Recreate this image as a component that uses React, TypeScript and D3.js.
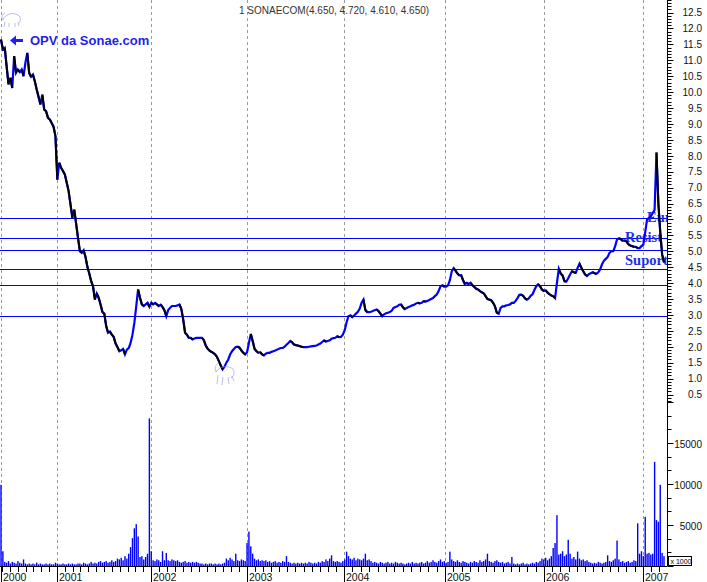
import React from "react";
import * as d3 from "d3";

const price = [
  11.65, 11.34, 11.39, 10.81, 10.24, 10.45, 10.13, 11.13, 10.6, 10.71,
  10.63, 10.71, 10.5, 10.92, 11.23, 10.6, 10.48, 10.55, 10.34, 10.08,
  9.85, 9.61, 9.92, 9.45, 9.4, 9.19, 9.14, 9.03, 8.91, 8.61,
  7.25, 7.78, 7.62, 7.52, 7.41, 7.15, 6.89, 6.47, 6.05, 6.31,
  5.87, 5.42, 5.0, 4.95, 5.03, 4.82, 4.51, 4.3, 4.06, 3.9,
  3.48, 3.67, 3.54, 3.33, 3.09, 3.04, 2.65, 2.44, 2.48, 2.38,
  2.31, 2.1, 1.99, 1.86, 1.89, 1.93, 1.76, 1.91, 1.96, 2.12,
  2.38, 2.75, 3.27, 3.8, 3.54, 3.33, 3.28, 3.33, 3.38, 3.25,
  3.38, 3.33, 3.38, 3.33, 3.28, 3.32, 3.25, 3.15, 2.96, 3.15,
  3.22, 3.28, 3.28, 3.28, 3.3, 3.33, 3.19, 2.86, 2.44, 2.38,
  2.28, 2.28, 2.23, 2.26, 2.28, 2.28, 2.28, 2.28, 2.21, 2.04,
  1.94, 1.88, 1.84, 1.81, 1.76, 1.68, 1.55, 1.41, 1.29, 1.37,
  1.5, 1.6, 1.76, 1.86, 1.93, 1.99, 2.0, 1.97, 1.88, 1.81,
  1.76, 1.83, 2.12, 2.4, 2.18, 1.93, 1.86, 1.81, 1.83, 1.76,
  1.73, 1.78, 1.81, 1.81, 1.84, 1.86, 1.88, 1.91, 1.94, 1.96,
  1.96, 2.0, 2.06, 2.12, 2.18, 2.14, 2.07, 2.05, 2.04, 2.02,
  2.0, 1.99, 1.99, 1.99, 2.0, 2.01, 2.02, 2.03, 2.04, 2.07,
  2.1, 2.15, 2.2, 2.16, 2.18, 2.2, 2.25, 2.27, 2.28, 2.33,
  2.3, 2.31, 2.38, 2.52, 2.77, 2.96, 2.99, 2.93, 2.98, 3.04,
  3.1, 3.2, 3.38, 3.48, 3.15, 3.09, 3.09, 3.1, 3.12, 3.15,
  3.17, 3.12, 3.04, 2.96, 3.02, 3.05, 3.07, 3.09, 3.13, 3.22,
  3.25, 3.27, 3.32, 3.33, 3.24, 3.18, 3.22, 3.25, 3.27, 3.3,
  3.32, 3.36, 3.38, 3.36, 3.38, 3.43, 3.42, 3.44, 3.47, 3.5,
  3.53, 3.59, 3.64, 3.75, 3.9, 3.93, 3.89, 3.89, 3.93, 4.09,
  4.37, 4.47, 4.39, 4.3, 4.24, 4.25, 4.09, 3.97, 4.01, 3.97,
  4.01, 3.93, 3.88, 3.82, 3.8, 3.75, 3.71, 3.68, 3.59, 3.5,
  3.48, 3.46, 3.38, 3.27, 3.07, 3.04, 3.22, 3.27, 3.27, 3.3,
  3.31, 3.33, 3.38, 3.38, 3.44, 3.53, 3.63, 3.64, 3.6, 3.52,
  3.48, 3.52, 3.6, 3.65, 3.78, 3.9, 3.96, 3.9, 3.8, 3.75,
  3.77, 3.7, 3.65, 3.61, 3.59, 3.53, 4.01, 4.45, 4.3, 4.24,
  4.06, 4.05, 4.15, 4.27, 4.37, 4.34, 4.32, 4.48, 4.61, 4.48,
  4.37, 4.27, 4.22, 4.28, 4.31, 4.34, 4.31, 4.29, 4.34, 4.43,
  4.59, 4.7, 4.76, 4.82, 4.95, 5.0, 5.0, 5.16, 5.37, 5.41,
  5.38, 5.33, 5.34, 5.31, 5.22, 5.18, 5.16, 5.14, 5.14, 5.1,
  5.1, 5.16, 5.21, 5.6, 6.0, 6.05, 6.1, 6.2, 6.3, 8.1,
  6.5, 5.6, 4.9, 4.65,
];

// Volume in thousands of shares, same sampling
const volume = [
  9.9, 1.8, 0.5, 0.4, 0.6, 0.3, 0.5, 0.4, 0.3, 0.6,
  0.4, 0.3, 0.8, 0.3, 0.2, 0.3, 0.2, 0.3, 0.2, 0.4,
  0.2, 0.3, 0.2, 0.2, 0.3, 0.2, 0.3, 0.2, 0.2, 0.4,
  0.3, 0.2, 0.2, 0.3, 0.2, 0.2, 0.3, 0.2, 0.3, 0.2,
  0.2, 0.3, 0.3, 0.2, 0.4, 0.3, 0.2, 0.3, 0.5, 0.3,
  0.4, 0.3, 0.5, 0.6, 0.4, 0.5, 0.6, 0.4, 0.5, 0.7,
  0.5, 0.6, 0.9, 0.8, 1.0, 0.7, 1.2, 0.9, 1.5, 2.3,
  3.4, 4.6, 5.1, 3.6, 1.1, 1.2, 0.8, 1.1, 1.5, 18,
  1.8, 0.7, 0.6, 0.8, 0.7, 0.5, 1.8, 0.7, 1.6, 0.7,
  0.6, 0.8, 0.7, 0.6, 0.7, 0.5, 0.4, 0.5, 0.6, 0.4,
  0.5, 0.4, 0.5, 0.4, 0.5, 0.4, 0.3, 0.3, 0.2, 0.3,
  0.2, 0.3, 0.3, 0.2, 0.3, 0.2, 0.3, 0.2, 0.3, 0.4,
  0.9, 0.7, 1.0, 0.8, 0.6, 1.5, 0.7, 0.6, 0.8, 0.7,
  0.6, 2.8, 4.2, 2.4, 1.5, 0.9, 0.7, 0.8, 0.6, 0.7,
  0.6, 0.7, 0.5, 0.6, 0.4, 0.5, 0.6, 0.4, 0.5, 0.4,
  0.6, 0.5, 1.2, 0.5, 0.4, 0.3, 0.4, 0.3, 0.4, 0.3,
  0.4, 0.3, 0.4, 0.3, 0.5, 0.4, 0.3, 0.4, 0.3, 0.5,
  0.4, 0.6, 0.5, 0.8, 0.6, 0.9, 1.3, 0.6, 0.5, 0.6,
  0.5, 0.4, 0.6, 0.8, 1.75, 1.2, 0.9, 0.8, 1.0, 0.7,
  0.9, 0.8, 0.7, 0.9, 1.5, 0.7, 0.8, 0.6, 0.4, 0.5,
  0.4, 0.3, 0.5, 0.4, 0.3, 0.4, 0.5, 0.3, 0.4, 0.3,
  0.5, 0.4, 0.3, 0.4, 0.3, 0.2, 0.3, 0.4, 0.3, 0.5,
  0.3, 0.4, 0.3, 0.4, 0.5, 0.3, 0.4, 0.6, 0.4, 0.5,
  0.7, 0.5, 0.4, 0.6, 0.8, 0.5, 0.6, 0.4, 0.5, 1.75,
  0.8, 0.6, 0.5, 0.7, 0.5, 0.4, 0.6, 0.5, 0.4, 0.3,
  0.5, 0.4, 0.6, 0.5, 0.4, 0.7, 0.5, 0.6, 0.8, 1.5,
  0.6, 0.5, 0.4, 0.6, 0.7, 0.5, 0.4, 0.5, 0.3, 0.4,
  0.5, 0.3, 1.1, 0.3, 0.2, 0.3, 0.2, 0.3, 0.4, 0.2,
  0.3, 0.2, 0.3, 0.4, 0.3, 0.5, 0.4, 0.6, 0.9, 0.8,
  1.0, 0.7, 0.9, 1.2, 2.2, 2.8, 6.2, 1.4, 1.5, 1.8,
  1.2, 1.4, 3.2, 1.5, 0.9, 1.1, 0.8, 1.75, 0.9, 0.7,
  0.8, 0.6, 0.7, 0.5, 0.4, 0.3, 0.4, 0.3, 0.5, 0.4,
  0.3, 0.4, 0.5, 1.3, 0.6, 0.5, 0.7, 0.9, 3.1, 0.8,
  0.5, 0.6, 0.4, 0.5, 0.6, 0.4, 0.5, 0.7, 0.6, 5.2,
  1.5, 1.8, 1.2, 6.0, 1.5, 1.6, 1.4, 1.5, 12.7, 5.6,
  5.4, 9.9, 1.6, 1.2,
];

const yearLabels = ["2000", "2001", "2002", "2003", "2004", "2005", "2006", "2007"];
// sample index at which each year label sits (2000 = first sample)
const yearStartIdx = [0, 29.8, 79.9, 131.0, 182.6, 236.4, 289.1, 341.8];

// horizontal support / resistance levels
const levels = [6.03, 5.41, 5.04, 4.43, 3.94, 2.96];

const priceTickLabels = d3.range(1, 26).map((k) => (k * 0.5).toFixed(1));
const volumeTickLabels = ["5000", "10000", "15000"];

const titleText = "1 SONAECOM(4.650, 4.720, 4.610, 4.650)";

const BLUE = "#0000ff";
const FONT = "'Liberation Sans', Arial, sans-serif";

export default function App() {
  const AX = 667.5; // right axis line
  const BASE = 566; // bottom axis line
  const n = price.length;

  const x = d3.scaleLinear().domain([0, n - 1]).range([1, 664]);
  const y = d3.scaleLinear().domain([0.5, 12.5]).range([394.5, 12.5]);
  const vy = d3.scaleLinear().domain([0, 20]).range([BASE, 402]);

  // month ticks
  const monthTicks: number[] = [];
  for (let k = 1; k < yearStartIdx.length; k++) {
    const a = yearStartIdx[k];
    const b = k + 1 < yearStartIdx.length ? yearStartIdx[k + 1] : a + (a - yearStartIdx[k - 1]);
    const step = (b - a) / 12;
    for (let m = 1; m < 12; m++) {
      const t = a + m * step;
      if (t <= n - 0.5) monthTicks.push(t);
    }
  }
  {
    const step0 = (yearStartIdx[2] - yearStartIdx[1]) / 12;
    for (let t = yearStartIdx[1] - step0; t > 0.5; t -= step0) monthTicks.push(t);
  }

  const minorPrice = d3.range(3, 130).map((k) => k / 10);
  const volTicks = d3.range(0, 13).map((k) => (k * 5) / 3);

  const linePath = d3
    .line<number>()
    .x((_, i) => x(i))
    .y((d) => y(d))(price) as string;

  const downSegs = price
    .map((v, i) => ({ i, v }))
    .filter(({ i, v }) => i > 0 && v < price[i - 1]);

  return (
    <svg
      width={707}
      height={582}
      style={{ position: "absolute", left: 0, top: 0, background: "#fff" }}
      fontFamily={FONT}
    >
      <defs>
        <clipPath id="plot">
          <rect x={0} y={0} width={AX} height={BASE} />
        </clipPath>
      </defs>
      <rect x={0} y={0} width={707} height={582} fill="#fff" />

      {/* year grid lines */}
      {yearStartIdx.map((t, k) => (
        <line
          key={"g" + k}
          x1={Math.round(x(t)) + 0.5}
          x2={Math.round(x(t)) + 0.5}
          y1={0}
          y2={BASE}
          stroke="#9a9a9a"
          strokeDasharray="3,3"
        />
      ))}

      {/* title */}
      <text x={239} y={13.5} fontSize={10} fill="#333">
        {titleText}
      </text>

      <g clipPath="url(#plot)">
        {/* level lines */}
        {levels.map((v, k) => (
          <line
            key={"l" + k}
            x1={0}
            x2={AX}
            y1={Math.round(y(v)) + 0.5}
            y2={Math.round(y(v)) + 0.5}
            stroke={BLUE}
            strokeWidth={1.2}
          />
        ))}

        {/* annotations */}
        <g fill="#1f2fe8" fontFamily="'Liberation Serif', 'Times New Roman', serif" fontWeight="bold" fontSize={14.5}>
          <text x={647} y={222}>Euro</text>
          <text x={625} y={241.5}>Resist</text>
          <text x={625} y={265}>Suport</text>
        </g>

        {/* price line */}
        <path d={linePath} fill="none" stroke={BLUE} strokeWidth={2.2} strokeLinejoin="miter" />
        {downSegs.map(({ i, v }) => (
          <line
            key={"d" + i}
            x1={x(i - 1)}
            y1={y(price[i - 1])}
            x2={x(i)}
            y2={y(v)}
            stroke="#000"
            strokeWidth={2}
          />
        ))}

        {/* volume bars */}
        {volume.map((v, i) => (
          <rect
            key={"v" + i}
            x={x(i) - 0.7}
            y={vy(v)}
            width={1.4}
            height={BASE - vy(v)}
            fill={BLUE}
          />
        ))}
      </g>

      {/* OPV annotation */}
      <path d="M10,40.5 L16,35.5 L16,39 L23,39 L23,42 L16,42 L16,45.5 Z" fill="#1f1fee" />
      <text x={30} y={45} fontSize={13} fontWeight="bold" fill="#1f1fee">
        OPV da Sonae.com
      </text>

      {/* faint sketch icons */}
      <g fill="none" stroke="#8e9ce6" strokeWidth={0.8} opacity={0.8}>
        <path d="M3,20 C5,14 12,12 18,15 C21,17 21,21 19,23 M5,22 L4,27 M9,23 L9,27 M15,23 L15,27 M18,22 L19,26 M3,20 C1,18 2,14 5,13" />
        <path d="M216,372 C219,366 228,365 233,369 C235,372 234,376 231,378 M218,375 L217,384 M223,377 L222,385 M228,377 L229,384 M232,376 L234,381 M216,372 C214,368 216,364 219,363" />
      </g>

      {/* right axis */}
      <line x1={AX} x2={AX} y1={0} y2={BASE} stroke="#000" />
      {minorPrice.map((v) => {
        const major = Math.abs(v * 2 - Math.round(v * 2)) < 1e-6;
        const yy = Math.round(y(v)) + 0.5;
        return <line key={"pt" + v} x1={AX} x2={AX + (major ? 6 : 4)} y1={yy} y2={yy} stroke="#000" />;
      })}
      {priceTickLabels.map((s) => (
        <text key={"pl" + s} x={702} y={y(+s)} dy="0.38em" textAnchor="end" fontSize={10} fill="#111">
          {s}
        </text>
      ))}
      {volTicks.map((v, k) => {
        const major = k % 3 === 0;
        const yy = Math.round(vy(v)) + 0.5;
        return <line key={"vt" + k} x1={AX} x2={AX + (major ? 6 : 4)} y1={yy} y2={yy} stroke="#000" />;
      })}
      {volumeTickLabels.map((s) => (
        <text key={"vl" + s} x={702} y={vy(+s / 1000)} dy="0.5em" textAnchor="end" fontSize={10} fill="#111">
          {s}
        </text>
      ))}
      <rect x={668.5} y={556.5} width={23} height={9} fill="#fff" stroke="#000" />
      <text x={670.5} y={564} fontSize={7} fill="#000">
        x 1000
      </text>

      {/* bottom axis */}
      <line x1={0} x2={AX} y1={BASE + 0.5} y2={BASE + 0.5} stroke="#000" />
      {monthTicks.map((t, k) => (
        <line
          key={"mt" + k}
          x1={Math.round(x(t)) + 0.5}
          x2={Math.round(x(t)) + 0.5}
          y1={BASE}
          y2={BASE + 6}
          stroke="#000"
        />
      ))}
      {yearStartIdx.map((t, k) => (
        <g key={"yt" + k}>
          <line
            x1={Math.round(x(t)) + 0.5}
            x2={Math.round(x(t)) + 0.5}
            y1={BASE}
            y2={582}
            stroke="#000"
          />
          <text x={Math.round(x(t)) + 2} y={580.5} fontSize={10.5} fill="#111">
            {yearLabels[k]}
          </text>
        </g>
      ))}
    </svg>
  );
}
